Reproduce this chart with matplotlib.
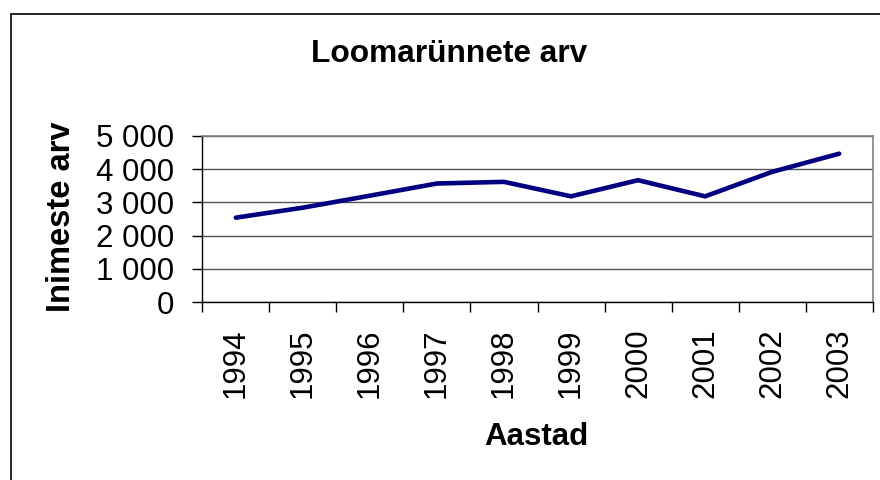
import matplotlib
matplotlib.use("Agg")
import matplotlib.pyplot as plt
from matplotlib.patches import Rectangle
from matplotlib.ticker import FixedLocator, FuncFormatter

# data
years = ['1994', '1995', '1996', '1997', '1998',
         '1999', '2000', '2001', '2002', '2003']
attacks = [2540, 2840, 3200, 3565, 3615, 3180, 3665, 3180, 3915, 4460]
y_ticks = [0, 1000, 2000, 3000, 4000, 5000]

title = 'Loomarünnete arv'
x_label = 'Aastad'
y_label = 'Inimeste arv'


def thousands(v, pos):
    return f"{int(v):,}".replace(',', ' ')


plt.rcParams['font.family'] = ['Liberation Sans', 'DejaVu Sans']

fig = plt.figure(figsize=(8.8, 4.8), dpi=100)
ax = fig.add_axes([0.2299, 0.3702, 0.7618, 0.3471])

pos = list(range(len(years)))
ax.plot(pos, attacks, color='#000080', lw=3.3, solid_capstyle='round', zorder=3)

ax.set_xlim(-0.5, len(years) - 0.5)
ax.set_ylim(0, 5000)

# gridlines
ax.set_yticks(y_ticks)
ax.yaxis.set_major_formatter(FuncFormatter(thousands))
ax.grid(axis='y', color='#555555', lw=1)
ax.set_axisbelow(True)

# labels at category centres, tick marks at boundaries
ax.set_xticks(pos)
ax.set_xticklabels(years, rotation=90, fontsize=22.5)
ax.xaxis.set_minor_locator(FixedLocator([p - 0.5 for p in pos] + [len(years) - 0.5]))
ax.tick_params(axis='x', which='major', length=0, pad=19)
ax.tick_params(axis='x', which='minor', length=7, width=1, direction='out', color='black')
ax.tick_params(axis='y', length=7, width=1, direction='out', labelsize=22.5, pad=13)

for side in ['top', 'right']:
    ax.spines[side].set_color('#808080')
    ax.spines[side].set_linewidth(1.2)
for side in ['left', 'bottom']:
    ax.spines[side].set_color('black')
    ax.spines[side].set_linewidth(1)

fig.text(449 / 880, 1 - 62.3 / 480, title, ha='center', va='baseline',
         fontsize=22.8, fontweight='bold')
fig.text(536.5 / 880, 1 - 445 / 480, x_label, ha='center', va='baseline',
         fontsize=22.5, fontweight='bold')
fig.text(61.7 / 880, 1 - 216.5 / 480, y_label, ha='center', va='center',
         rotation=90, fontsize=23.5, fontweight='bold')

# outer chart border
fig.patches.append(Rectangle((11 / 880, -0.05), 1.0, 1 - 14 / 480 + 0.05,
                             transform=fig.transFigure, fill=False,
                             edgecolor='black', lw=1.2, clip_on=False))

fig.savefig('out.png', dpi=100)
